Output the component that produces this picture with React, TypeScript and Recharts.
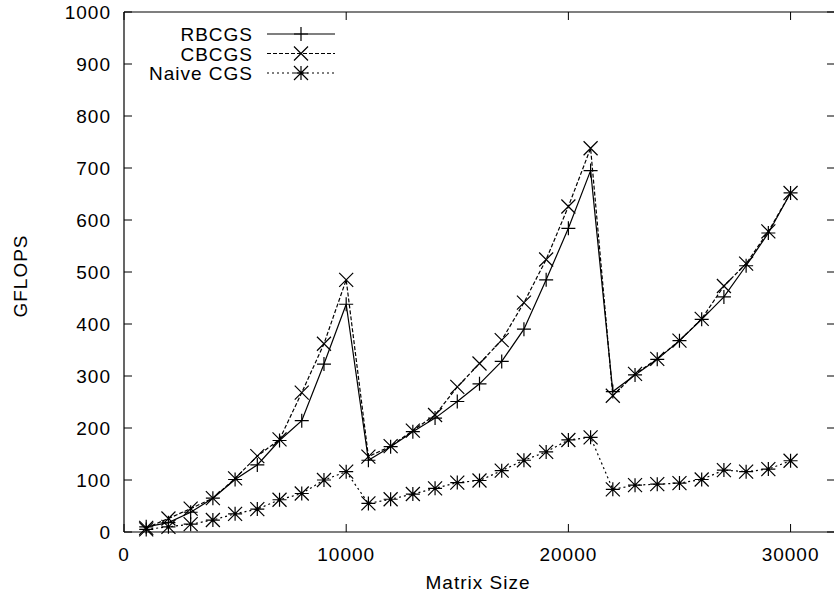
import React from 'react';
import { LineChart, Line, XAxis, YAxis, ReferenceLine } from 'recharts';

const sizes = [
  1000, 2000, 3000, 4000, 5000, 6000, 7000, 8000, 9000, 10000,
  11000, 12000, 13000, 14000, 15000, 16000, 17000, 18000, 19000, 20000,
  21000, 22000, 23000, 24000, 25000, 26000, 27000, 28000, 29000, 30000,
];
const rbcgs = [
  10, 18, 38, 65, 101, 129, 176, 214, 323, 438,
  138, 164, 193, 219, 251, 285, 328, 390, 485, 584,
  695, 270, 302, 332, 368, 409, 452, 512, 575, 652,
];
const cbcgs = [
  8, 26, 45, 65, 103, 146, 178, 268, 362, 485,
  145, 165, 195, 225, 279, 324, 369, 441, 524, 626,
  738, 262, 304, 333, 368, 410, 473, 516, 578, 652,
];
const naive = [
  5, 10, 15, 23, 35, 44, 62, 74, 100, 116,
  55, 63, 73, 84, 95, 99, 118, 138, 154, 177,
  182, 82, 90, 92, 94, 101, 119, 116, 121, 137,
];
const xTicks = [0, 10000, 20000, 30000];
const yTicks = [0, 100, 200, 300, 400, 500, 600, 700, 800, 900, 1000];

const data = sizes.map((s, i) => ({ size: s, rbcgs: rbcgs[i], cbcgs: cbcgs[i], naive: naive[i] }));

const FONT = '"Liberation Sans", Arial, Helvetica, sans-serif';
const FS = 19;
const PLOT_LEFT = 124;
const PLOT_TOP = 12;
const PLOT_BOTTOM = 532;
const PLOT_RIGHT = 835;

type MarkerType = 'plus' | 'cross' | 'star';

const Marker = ({ cx, cy, type, r = 7 }: { cx: number; cy: number; type: MarkerType; r?: number }) => {
  const plus = `M${cx - r},${cy}H${cx + r}M${cx},${cy - r}V${cy + r}`;
  const cross = `M${cx - r},${cy - r}L${cx + r},${cy + r}M${cx - r},${cy + r}L${cx + r},${cy - r}`;
  const d = type === 'plus' ? plus : type === 'cross' ? cross : plus + cross;
  return <path d={d} stroke="#000" strokeWidth={1.2} fill="none" />;
};

const YTick = (props: any) => {
  const { y, payload } = props;
  return (
    <g>
      <line x1={PLOT_LEFT} x2={PLOT_LEFT + 8} y1={y} y2={y} stroke="#000" strokeWidth={1} />
      <line x1={PLOT_RIGHT - 8} x2={PLOT_RIGHT} y1={y} y2={y} stroke="#000" strokeWidth={1} />
      <text x={111} y={y + 7} textAnchor="end" fontSize={FS} letterSpacing={1} fontFamily={FONT} fill="#000">
        {payload.value}
      </text>
    </g>
  );
};

const XTick = (props: any) => {
  const { x, payload } = props;
  return (
    <g>
      <line x1={x} x2={x} y1={PLOT_BOTTOM - 8} y2={PLOT_BOTTOM} stroke="#000" strokeWidth={1} />
      <line x1={x} x2={x} y1={PLOT_TOP} y2={PLOT_TOP + 8} stroke="#000" strokeWidth={1} />
      <text x={x} y={561} textAnchor="middle" fontSize={FS} letterSpacing={1} fontFamily={FONT} fill="#000">
        {payload.value}
      </text>
    </g>
  );
};

const legendItems: { name: string; type: MarkerType; dash?: string }[] = [
  { name: 'RBCGS', type: 'plus' },
  { name: 'CBCGS', type: 'cross', dash: '4 2' },
  { name: 'Naive CGS', type: 'star', dash: '2 3' },
];

export default function App() {
  return (
    <div style={{ position: 'absolute', left: 0, top: 0, width: 834, height: 601, overflow: 'hidden', background: '#fff' }}>
      <LineChart
        width={836}
        height={601}
        data={data}
        margin={{ top: PLOT_TOP, right: 1, bottom: 29, left: 64 }}
      >
        <XAxis
          dataKey="size"
          type="number"
          domain={[0, 32000]}
          ticks={xTicks}
          height={40}
          tickLine={false}
          axisLine={{ stroke: '#000', strokeWidth: 1.2 }}
          tick={<XTick />}
          interval={0}
        />
        <YAxis
          type="number"
          domain={[0, 1000]}
          ticks={yTicks}
          width={60}
          tickLine={false}
          axisLine={{ stroke: '#000', strokeWidth: 1.2 }}
          tick={<YTick />}
          interval={0}
        />
        <ReferenceLine y={1000} stroke="#000" strokeWidth={1.2} />
        <ReferenceLine x={32000} stroke="#000" strokeWidth={1.2} />
        <Line
          dataKey="naive"
          stroke="#000"
          strokeWidth={1.2}
          strokeDasharray="2 3"
          isAnimationActive={false}
          dot={(p: any) => <Marker key={`n${p.index}`} cx={p.cx} cy={p.cy} type="star" />}
          activeDot={false}
        />
        <Line
          dataKey="cbcgs"
          stroke="#000"
          strokeWidth={1.2}
          strokeDasharray="4 2"
          isAnimationActive={false}
          dot={(p: any) => <Marker key={`c${p.index}`} cx={p.cx} cy={p.cy} type="cross" />}
          activeDot={false}
        />
        <Line
          dataKey="rbcgs"
          stroke="#000"
          strokeWidth={1.2}
          isAnimationActive={false}
          dot={(p: any) => <Marker key={`r${p.index}`} cx={p.cx} cy={p.cy} type="plus" />}
          activeDot={false}
        />
      </LineChart>
      <svg
        width={834}
        height={601}
        style={{ position: 'absolute', left: 0, top: 0, pointerEvents: 'none' }}
      >
        <text
          x={0}
          y={0}
          transform="translate(27,276) rotate(-90)"
          textAnchor="middle"
          fontSize={FS}
          letterSpacing={1}
          fontFamily={FONT}
          fill="#000"
        >
          GFLOPS
        </text>
        <text x={478} y={589} textAnchor="middle" fontSize={FS} letterSpacing={1} fontFamily={FONT} fill="#000">
          Matrix Size
        </text>
        {legendItems.map((item, i) => {
          const cy = 34 + i * 19.5;
          return (
            <g key={item.name}>
              <text x={253} y={cy + 7} textAnchor="end" fontSize={FS} letterSpacing={1} fontFamily={FONT} fill="#000">
                {item.name}
              </text>
              <line x1={267} x2={335} y1={cy} y2={cy} stroke="#000" strokeWidth={1.2} strokeDasharray={item.dash} />
              <Marker cx={301} cy={cy} type={item.type} />
            </g>
          );
        })}
      </svg>
    </div>
  );
}
